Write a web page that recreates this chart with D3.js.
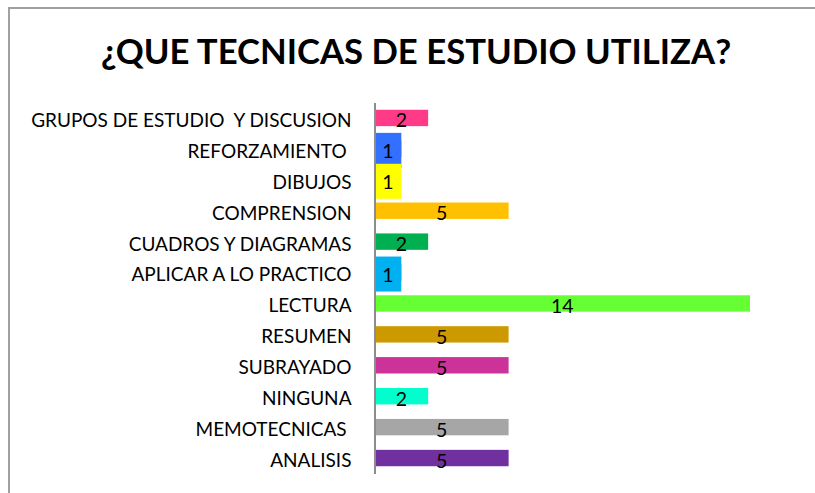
<!DOCTYPE html>
<html>
<head>
<meta charset="utf-8">
<script src="https://cdn.jsdelivr.net/npm/d3@7"></script>
<style>
  body { margin: 0; background: #fff; }
  svg text { font-family: Lato, "Noto Sans", sans-serif; }
</style>
</head>
<body>
<div id="chart"></div>
<script>
const title = "¿QUE TECNICAS DE ESTUDIO UTILIZA?";

const categories = [
  "GRUPOS DE ESTUDIO  Y DISCUSION",
  "REFORZAMIENTO ",
  "DIBUJOS",
  "COMPRENSION",
  "CUADROS Y DIAGRAMAS",
  "APLICAR A LO PRACTICO",
  "LECTURA",
  "RESUMEN",
  "SUBRAYADO",
  "NINGUNA",
  "MEMOTECNICAS ",
  "ANALISIS"
];

const values = [2, 1, 1, 5, 2, 1, 14, 5, 5, 2, 5, 5];

const colors = [
  "#ff3b88", "#3370ff", "#ffff00", "#ffc000", "#00b050", "#00b0f0",
  "#66ff33", "#cc9900", "#cc3399", "#00ffcc", "#a6a6a6", "#7030a0"
];

const data = categories.map((c, i) => ({ cat: c, value: values[i], color: colors[i] }));

let width = 815,
    height = 493;

let svg = d3.select('#chart')
  .append('svg')
  .attr('width', width)
  .attr('height', height);

// chart frame (only top and left edge visible)
svg.append('path')
  .attr('d', `M9,${height} L9,8 L${width},8`)
  .attr('fill', 'none')
  .attr('stroke', '#a0a0a0')
  .attr('stroke-width', 2);

svg.append('text')
  .attr('x', 416)
  .attr('y', 64)
  .attr('text-anchor', 'middle')
  .attr('font-size', 34.7)
  .attr('font-weight', 'bold')
  .attr('fill', '#000')
  .text(title);

// scales
let x = d3.scaleLinear()
  .domain([0, 14])
  .range([374.5, 750]);

let y = d3.scaleBand()
  .domain(categories)
  .range([102.5, 473.5])
  .paddingInner(0.47)
  .paddingOuter(0.235);

// bars
svg.append('g')
  .selectAll('rect')
  .data(data)
  .join('rect')
  .attr('x', x(0))
  .attr('y', d => y(d.cat))
  .attr('width', d => x(d.value) - x(0))
  .attr('height', y.bandwidth())
  .attr('fill', d => d.color);

// filled label boxes on the short bars
svg.append('g')
  .selectAll('rect')
  .data(data.filter(d => d.value === 1))
  .join('rect')
  .attr('x', x(0))
  .attr('y', d => y(d.cat) + y.bandwidth() / 2 - 16)
  .attr('width', d => x(d.value) - x(0))
  .attr('height', 35)
  .attr('fill', d => d.color);

// category axis
let yAxis = d3.axisLeft(y)
  .tickSize(0)
  .tickSizeOuter(0)
  .tickPadding(23);

let ax = svg.append('g')
  .attr('transform', `translate(${x(0)},0)`)
  .call(yAxis);

ax.select('.domain')
  .attr('stroke', '#8c8c8c')
  .attr('stroke-width', 2);

ax.selectAll('text')
  .attr('font-family', 'Lato, "Noto Sans", sans-serif')
  .attr('font-size', 19)
  .attr('fill', '#000')
  .attr('dy', '0.47em')
  .style('white-space', 'pre');

// value labels
svg.append('g')
  .selectAll('text')
  .data(data)
  .join('text')
  .attr('x', d => (x(0) + x(d.value)) / 2)
  .attr('y', d => y(d.cat) + y.bandwidth() / 2 + 9.5)
  .attr('text-anchor', 'middle')
  .attr('font-size', 19.5)
  .attr('fill', '#000')
  .text(d => d.value);
</script>
</body>
</html>
